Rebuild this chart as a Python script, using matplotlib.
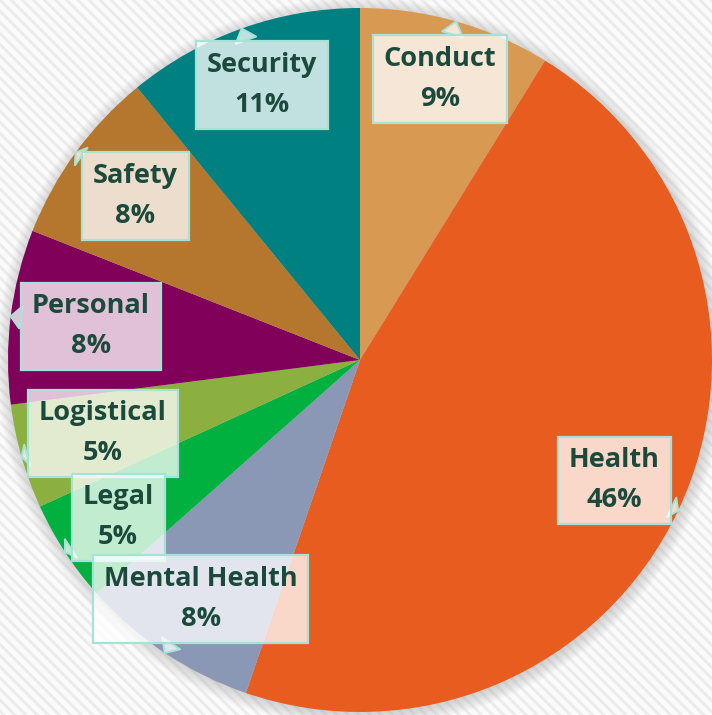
import numpy as np
import matplotlib
matplotlib.use("Agg")
import matplotlib.pyplot as plt
from matplotlib.patches import Rectangle, Circle

# slices, clockwise from 12 o'clock
categories = ["Conduct", "Health", "Mental Health", "Legal",
              "Logistical", "Personal", "Safety", "Security"]
values = [8.8, 46.4, 8.2, 4.7, 4.8, 8.0, 8.1, 10.9]
colors = ["#D89A52", "#E85C20", "#8A97B5", "#00B140",
          "#8BB040", "#80005A", "#B5762E", "#008080"]
# radial position of each callout box (fraction of radius)
label_dist = [0.83, 0.80, 0.815, 0.82, 0.76, 0.77, 0.79, 0.83]

plt.rcParams["font.family"] = ["Open Sans", "DejaVu Sans"]
plt.rcParams["hatch.linewidth"] = 2.2

fig = plt.figure(figsize=(7.12, 7.15), dpi=100)
fig.patch.set_facecolor("#fbfbfb")

# striped backdrop
bg = Rectangle((0, 0), 1, 1, transform=fig.transFigure, facecolor="#fbfbfb",
               edgecolor="#ececec", hatch="\\\\\\", linewidth=0, zorder=-10)
fig.add_artist(bg)

ax = fig.add_axes([0, 0, 1, 1])

# soft shadow around the pie
for i in range(10):
    ax.add_patch(Circle((0.004, -0.006), 1.0 + 0.004 * i, facecolor="#9a9a9a",
                        alpha=0.045, linewidth=0, zorder=0))

wedges, _ = ax.pie(values, colors=colors, startangle=90, counterclock=False,
                   radius=1.0, wedgeprops=dict(linewidth=0, zorder=1))

total = sum(values)
cum = np.cumsum([0] + values[:-1])
order = list(range(len(values)))[::-1]
for z, i in enumerate(order):
    mid = (cum[i] + values[i] / 2) / total * 2 * np.pi
    tip = (np.sin(mid), np.cos(mid))
    d = label_dist[i]
    pos = (d * np.sin(mid), d * np.cos(mid))
    ax.annotate(f"{categories[i]}\n{round(values[i] / total * 100):.0f}%",
                xy=tip, xytext=pos, ha="center", va="center",
                fontsize=19.5, fontweight="bold", color="#1B4A3C",
                linespacing=1.7, zorder=5 + z,
                bbox=dict(boxstyle="square,pad=0.4", fc=(1, 1, 1, 0.76),
                          ec="#A6E3D6", lw=1.6),
                arrowprops=dict(arrowstyle="wedge,tail_width=0.8,shrink_factor=0.5",
                                fc=(1, 1, 1, 0.76), ec="#A6E3D6", lw=1.4,
                                shrinkA=0, shrinkB=0))

R = 352.0
ax.set_xlim(-360 / R, (712 - 360) / R)
ax.set_ylim(-(715 - 360) / R, 360 / R)
ax.set_aspect("auto")
ax.axis("off")

fig.savefig("out.png", dpi=100, facecolor=fig.get_facecolor())
